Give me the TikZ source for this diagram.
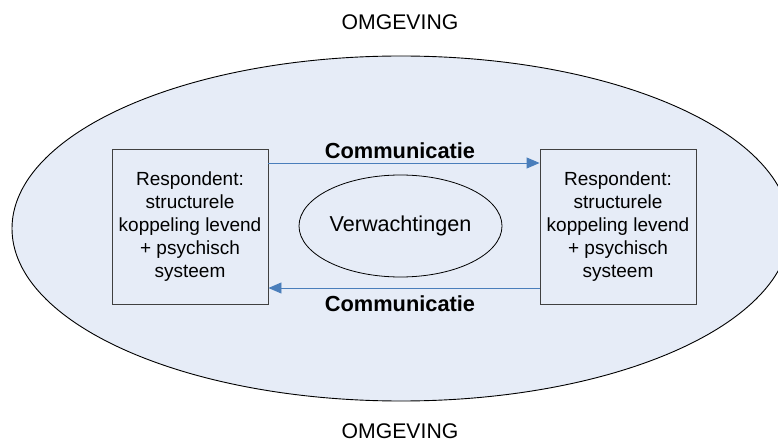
\documentclass[tikz,border=0pt]{standalone}
\usepackage{fontspec}
\setmainfont{Liberation Sans}
\usetikzlibrary{shapes.geometric,arrows.meta}
\definecolor{envfill}{HTML}{E6ECF7}
\definecolor{flowblue}{HTML}{4A7EBB}
\definecolor{boxedge}{HTML}{404040}
\tikzset{
  env/.style={ellipse, draw=black, line width=0.9pt, fill=envfill, inner sep=0pt,
    minimum width=778pt, minimum height=345pt},
  actor/.style={rectangle, draw=boxedge, line width=0.9pt, fill=envfill,
    minimum width=156pt, minimum height=155pt, align=center,
    font=\fontsize{19}{23.2}\selectfont},
  expect/.style={ellipse, draw=black, line width=0.8pt, fill=envfill, inner sep=0pt,
    minimum width=203pt, minimum height=102pt, font=\fontsize{21.6}{25}\selectfont},
  flow/.style={draw=flowblue, line width=0.9pt, -{Triangle[length=13pt,width=11pt]}},
  flowlabel/.style={font=\fontsize{21.8}{25}\selectfont\bfseries},
  envlabel/.style={font=\fontsize{21.2}{24}\selectfont}
}
\begin{document}
\begin{tikzpicture}[x=1pt,y=-1pt]
  \useasboundingbox (0,0) rectangle (778,443);
  \clip (0,0) rectangle (778,443);
  \node[env] (omg) at (401,228.5) {};
  \node[envlabel] (top) at (400,22) {OMGEVING};
  \node[envlabel] (bottom) at (400,431) {OMGEVING};
  \node[actor] (left) at (190,226.5) {Respondent:\\structurele\\koppeling levend\\+ psychisch\\systeem};
  \node[actor] (right) at (618,226.5) {Respondent:\\structurele\\koppeling levend\\+ psychisch\\systeem};
  \node[expect] (verw) at (400.5,226) {Verwachtingen};
  \draw[flow] (left.east |- 0,163) -- (right.west |- 0,163);
  \draw[flow] (right.west |- 0,288) -- (left.east |- 0,288);
  \node[flowlabel] (c1) at (400,151) {Communicatie};
  \node[flowlabel] (c2) at (400,304) {Communicatie};
\end{tikzpicture}
\end{document}
